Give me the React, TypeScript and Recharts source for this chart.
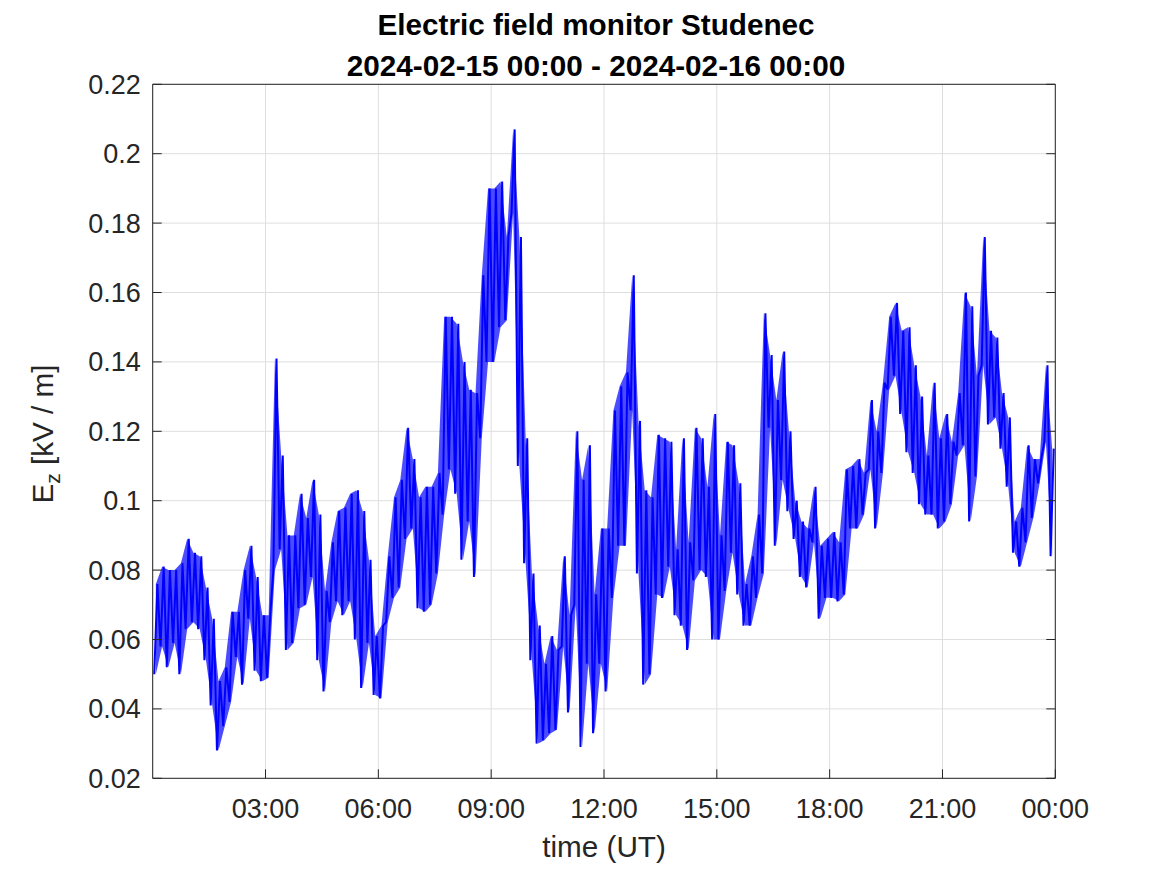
import { Area, CartesianGrid, ComposedChart, Line, XAxis, YAxis } from 'recharts';

// Ez envelope per 10-minute step (kV/m): low and high of each step
const STEP_MIN = 10;
const LOW = [
	0.05, 0.058, 0.052, 0.059, 0.05, 0.063, 0.065, 0.063, 0.054, 0.041, 0.028, 0.035, 0.042, 0.055, 0.047, 0.066, 0.051, 0.048,
	0.049, 0.08, 0.086, 0.057, 0.059, 0.069, 0.07, 0.078, 0.054, 0.045, 0.065, 0.071, 0.067, 0.071, 0.06, 0.046, 0.059, 0.044,
	0.043, 0.065, 0.072, 0.075, 0.089, 0.092, 0.069, 0.068, 0.07, 0.079, 0.096, 0.109, 0.102, 0.083, 0.094, 0.078, 0.118, 0.14,
	0.14, 0.15, 0.152, 0.183, 0.11, 0.082, 0.054, 0.03, 0.031, 0.033, 0.034, 0.058, 0.039, 0.07, 0.029, 0.053, 0.033, 0.053,
	0.045, 0.072, 0.087, 0.087, 0.126, 0.079, 0.047, 0.05, 0.073, 0.072, 0.081, 0.067, 0.064, 0.057, 0.077, 0.08, 0.078, 0.06,
	0.06, 0.074, 0.085, 0.073, 0.064, 0.064, 0.072, 0.079, 0.121, 0.087, 0.106, 0.097, 0.089, 0.078, 0.075, 0.088, 0.066, 0.072,
	0.072, 0.071, 0.073, 0.092, 0.092, 0.096, 0.109, 0.092, 0.108, 0.132, 0.136, 0.125, 0.114, 0.108, 0.099, 0.096, 0.096, 0.092,
	0.094, 0.099, 0.113, 0.116, 0.094, 0.107, 0.139, 0.122, 0.124, 0.115, 0.104, 0.085, 0.081, 0.088, 0.095, 0.105, 0.117, 0.084,
];
const HIGH = [
	0.076, 0.081, 0.08, 0.08, 0.082, 0.089, 0.085, 0.084, 0.075, 0.066, 0.048, 0.052, 0.068, 0.068, 0.08, 0.087, 0.078, 0.067,
	0.067, 0.141, 0.113, 0.09, 0.09, 0.102, 0.095, 0.106, 0.096, 0.074, 0.088, 0.097, 0.098, 0.102, 0.103, 0.097, 0.083, 0.061,
	0.064, 0.084, 0.101, 0.106, 0.121, 0.112, 0.101, 0.104, 0.104, 0.108, 0.153, 0.153, 0.151, 0.14, 0.132, 0.131, 0.165, 0.19,
	0.19, 0.192, 0.176, 0.207, 0.176, 0.118, 0.079, 0.064, 0.053, 0.061, 0.057, 0.084, 0.067, 0.12, 0.106, 0.116, 0.073, 0.092,
	0.092, 0.126, 0.133, 0.137, 0.165, 0.123, 0.103, 0.101, 0.119, 0.118, 0.117, 0.086, 0.118, 0.088, 0.121, 0.118, 0.104, 0.125,
	0.09, 0.117, 0.116, 0.105, 0.076, 0.084, 0.096, 0.154, 0.142, 0.129, 0.143, 0.12, 0.1, 0.094, 0.092, 0.104, 0.087, 0.089,
	0.091, 0.088, 0.109, 0.11, 0.112, 0.108, 0.129, 0.12, 0.134, 0.153, 0.157, 0.149, 0.15, 0.139, 0.13, 0.113, 0.134, 0.118,
	0.125, 0.117, 0.131, 0.16, 0.156, 0.136, 0.176, 0.149, 0.147, 0.131, 0.124, 0.094, 0.098, 0.116, 0.112, 0.112, 0.139, 0.115,
];

const X_TICKS = [180, 360, 540, 720, 900, 1080, 1260, 1440];
const Y_TICKS = [0.02, 0.04, 0.06, 0.08, 0.1, 0.12, 0.14, 0.16, 0.18, 0.2, 0.22];
const TITLE = ['Electric field monitor Studenec', '2024-02-15 00:00 - 2024-02-16 00:00'];
const X_LABEL = 'time (UT)';

const FONT = '"Liberation Sans", Arial, Helvetica, sans-serif';
const AXIS = '#262626';
const BLUE = '#0000ff';

// zigzag trace through each step's low and high
const trace = LOW.flatMap((lo, i) => [
	{ t: i * STEP_MIN + 2.5, ez: lo },
	{ t: i * STEP_MIN + 7.5, ez: HIGH[i] },
]);
// the same envelope as a band, so the dense jitter reads as solid
const band = LOW.map((lo, i) => ({ t: i * STEP_MIN + 5, range: [lo, HIGH[i]] }));

const fmtTime = (m: number) => {
	const h = Math.floor(m / 60) % 24;
	return `${String(h).padStart(2, '0')}:${String(m % 60).padStart(2, '0')}`;
};
const fmtVal = (v: number) => String(Number(v.toFixed(2)));
const blank = () => '';

const tickStyle = { fill: AXIS, fontSize: 27, fontFamily: FONT };

export default function App() {
	return (
		<div style={{ position: 'absolute', left: 0, top: 0, width: 1167, height: 875, background: '#fff' }}>
			<ComposedChart
				width={1167}
				height={875}
				margin={{ top: 64.3, right: 91.7, bottom: 16.7, left: 52.7 }}
			>
				<CartesianGrid stroke="#dedede" />
				<XAxis
					dataKey="t"
					type="number"
					domain={[0, 1440]}
					ticks={X_TICKS}
					allowDataOverflow
					height={80}
					tickFormatter={fmtTime}
					tick={tickStyle}
					tickSize={-9}
					tickMargin={29.5}
					axisLine={{ stroke: AXIS }}
					tickLine={{ stroke: AXIS }}
				/>
				<XAxis
					xAxisId="top"
					orientation="top"
					type="number"
					domain={[0, 1440]}
					ticks={X_TICKS}
					allowDataOverflow
					height={20}
					tickFormatter={blank}
					tickSize={-9}
					axisLine={{ stroke: AXIS }}
					tickLine={{ stroke: AXIS }}
				/>
				<YAxis
					type="number"
					domain={[0.02, 0.22]}
					ticks={Y_TICKS}
					allowDataOverflow
					width={100}
					tickFormatter={fmtVal}
					tick={tickStyle}
					tickSize={-9}
					tickMargin={21}
					axisLine={{ stroke: AXIS }}
					tickLine={{ stroke: AXIS }}
				/>
				<YAxis
					yAxisId="right"
					orientation="right"
					type="number"
					domain={[0.02, 0.22]}
					ticks={Y_TICKS}
					allowDataOverflow
					width={20}
					tickFormatter={blank}
					tickSize={-9}
					axisLine={{ stroke: AXIS }}
					tickLine={{ stroke: AXIS }}
				/>
				<Area
					data={band}
					type="linear"
					dataKey="range"
					stroke="none"
					fill={BLUE}
					fillOpacity={0.7}
					isAnimationActive={false}
				/>
				<Line
					data={trace}
					type="linear"
					dataKey="ez"
					stroke={BLUE}
					strokeWidth={2}
					dot={false}
					isAnimationActive={false}
				/>
			</ComposedChart>
			<svg
				width={1167}
				height={875}
				style={{ position: 'absolute', left: 0, top: 0, pointerEvents: 'none' }}
			>
				<g fontFamily={FONT} fontWeight="bold" fontSize={29.7} fill="#000" textAnchor="middle">
					<text x={596} y={35}>{TITLE[0]}</text>
					<text x={596} y={76}>{TITLE[1]}</text>
				</g>
				<text x={604} y={857} fontFamily={FONT} fontSize={29.7} fill={AXIS} textAnchor="middle">
					{X_LABEL}
				</text>
				<text
					x={53.3}
					y={434}
					transform="rotate(-90 53.3 434)"
					fontFamily={FONT}
					fontSize={29.7}
					fill={AXIS}
					textAnchor="middle"
				>
					E<tspan fontSize={21} dy={7}>z</tspan>
					<tspan dy={-7}> [kV / m]</tspan>
				</text>
			</svg>
		</div>
	);
}
